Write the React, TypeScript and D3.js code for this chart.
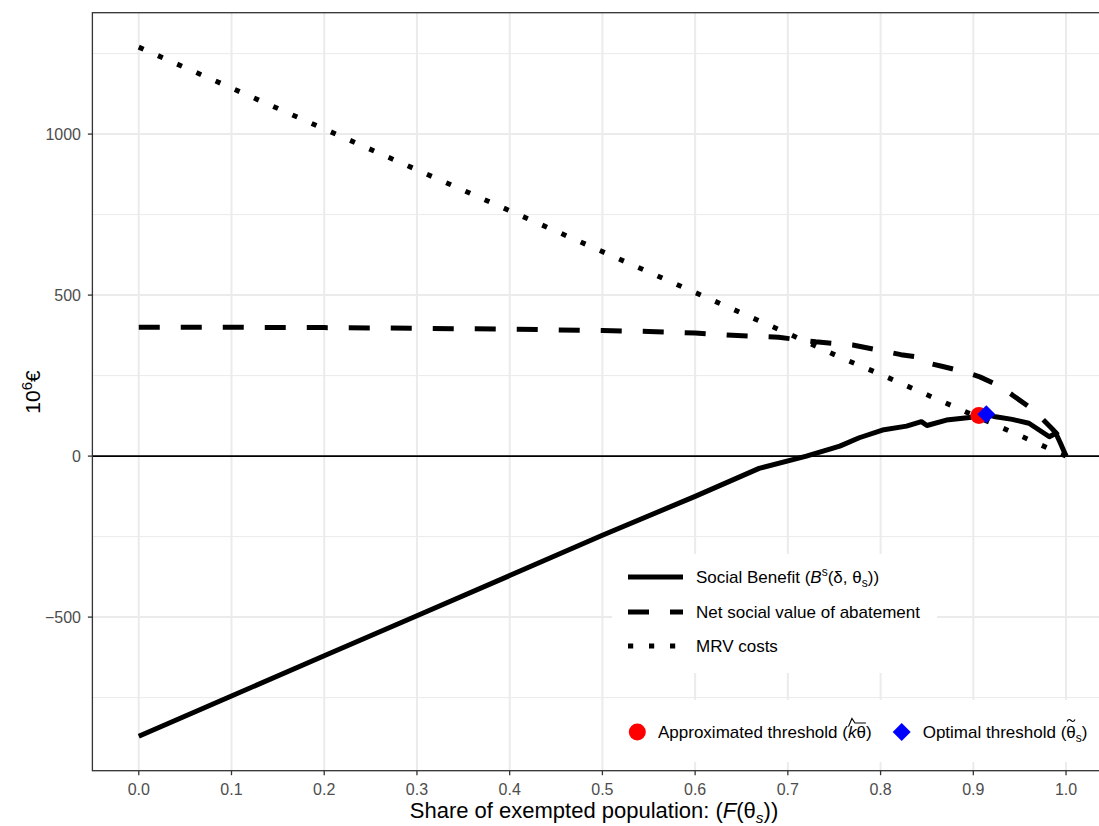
import React, { useEffect, useRef } from 'react';
import * as d3 from 'd3';

// ---- data ----
const sbX = [0, 0.1, 0.2, 0.3, 0.4, 0.5, 0.6, 0.669, 0.72, 0.756, 0.777, 0.802, 0.828, 0.844, 0.85, 0.871, 0.896, 0.906, 0.914, 0.924, 0.942, 0.96, 0.971, 0.982, 0.989, 0.994, 1.0];
const sbY = [-870, -745, -620, -496, -371, -246, -125, -38, 0, 31, 57, 81, 93, 107, 95, 112, 120, 127, 130, 122, 114, 102, 81, 60, 71, 40, 0];

const nsvX = [0, 0.1, 0.2, 0.3, 0.4, 0.5, 0.55, 0.6, 0.64, 0.69, 0.73, 0.77, 0.81, 0.822, 0.845, 0.85, 0.866, 0.89, 0.907, 0.926, 0.942, 0.96, 0.975, 0.985, 0.993, 1.0];
const nsvY = [400, 400, 399, 397, 394, 390, 387, 382, 375, 369, 355, 345, 322, 315, 306, 290, 279, 262, 246, 221, 190, 153, 114, 85, 60, 0];

const mrvX = [0, 0.2, 0.4, 0.6, 0.703, 0.761, 0.8, 0.9, 0.95, 0.985, 1.0];
const mrvY = [1270, 1016, 762, 508, 377, 301, 254, 127, 64, 19, 0];

const approxPt = [0.906, 126];
const optimalPt = [0.914, 130];

const xTicks = [0, 0.1, 0.2, 0.3, 0.4, 0.5, 0.6, 0.7, 0.8, 0.9, 1.0];
const yTicks = [-500, 0, 500, 1000];
const yMinor = [-750, -250, 250, 750, 1250];

const FONT = '"Liberation Sans", Arial, Helvetica, sans-serif';

export default function App() {
  const ref = useRef<SVGSVGElement>(null);

  useEffect(() => {
    document.body.style.margin = '0';
    const svg = d3.select(ref.current);
    svg.selectAll('*').remove();

    const left = 92.4, right = 1112.4, top = 12.7, bottom = 770.7;
    const allY = [...sbY, ...nsvY, ...mrvY];
    const yMin = d3.min(allY) as number, yMax = d3.max(allY) as number;
    const yPad = (yMax - yMin) * 0.05;
    const x = d3.scaleLinear().domain([-0.05, 1.05]).range([left, right]);
    const y = d3.scaleLinear().domain([yMin - yPad, yMax + yPad]).range([bottom, top]);

    svg.append('rect').attr('width', 1099).attr('height', 826).attr('fill', '#fff');

    const g = svg.append('g');
    // minor grid
    g.selectAll('.ymin').data(yMinor).join('line')
      .attr('x1', left).attr('x2', right).attr('y1', d => y(d)).attr('y2', d => y(d))
      .attr('stroke', '#EBEBEB').attr('stroke-width', 1);
    // major grid
    g.selectAll('.ymaj').data(yTicks).join('line')
      .attr('x1', left).attr('x2', right).attr('y1', d => y(d)).attr('y2', d => y(d))
      .attr('stroke', '#EBEBEB').attr('stroke-width', 2);
    g.selectAll('.xmaj').data(xTicks).join('line')
      .attr('y1', top).attr('y2', bottom).attr('x1', d => x(d)).attr('x2', d => x(d))
      .attr('stroke', '#EBEBEB').attr('stroke-width', 2);

    // zero line
    g.append('line').attr('x1', left).attr('x2', right).attr('y1', y(0)).attr('y2', y(0))
      .attr('stroke', '#000').attr('stroke-width', 1.8);

    const line = d3.line<[number, number]>().x(d => x(d[0])).y(d => y(d[1]));
    const series: [number[], number[], string | null][] = [
      [sbX, sbY, null],
      [nsvX, nsvY, '21 21'],
      [mrvX, mrvY, '5.2 15.8'],
    ];
    series.forEach(([xs, ys, dash]) => {
      const pts = xs.map((v, i) => [v, ys[i]] as [number, number]);
      const p = g.append('path').attr('d', line(pts) as string)
        .attr('fill', 'none').attr('stroke', '#000').attr('stroke-width', 5)
        .attr('stroke-linejoin', 'round').attr('stroke-linecap', 'butt');
      if (dash) p.attr('stroke-dasharray', dash);
    });

    // threshold points
    g.append('circle').attr('cx', x(approxPt[0])).attr('cy', y(approxPt[1])).attr('r', 8.5).attr('fill', '#FF0000');
    const diamond = (cx: number, cy: number, r: number) => `M${cx},${cy - r}L${cx + r},${cy}L${cx},${cy + r}L${cx - r},${cy}Z`;
    g.append('path').attr('d', diamond(x(optimalPt[0]), y(optimalPt[1]), 9)).attr('fill', '#0000FF');

    // legend boxes
    g.append('rect').attr('x', 612).attr('y', 554).attr('width', 325).attr('height', 119).attr('fill', '#fff');
    g.append('rect').attr('x', 612).attr('y', 700).attr('width', 500).attr('height', 62).attr('fill', '#fff');

    // legend 1
    const rows: [number, string | null][] = [[577, null], [612, '21 21'], [646, '5.2 15.8']];
    rows.forEach(([ry, dash]) => {
      const l = g.append('line').attr('x1', 628).attr('x2', 683).attr('y1', ry).attr('y2', ry)
        .attr('stroke', '#000').attr('stroke-width', 5.2).attr('stroke-linecap', 'butt');
      if (dash) l.attr('stroke-dasharray', dash);
    });
    const lt = (ry: number) => g.append('text').attr('x', 696).attr('y', ry + 6).attr('font-family', FONT)
      .attr('font-size', 17).attr('fill', '#000');
    const t1 = lt(577);
    t1.append('tspan').text('Social Benefit (');
    t1.append('tspan').attr('font-style', 'italic').text('B');
    t1.append('tspan').attr('font-size', 12).attr('dy', -7).text('s');
    t1.append('tspan').attr('dy', 7).text('(δ, θ');
    t1.append('tspan').attr('font-size', 12).attr('dy', 4).text('s');
    t1.append('tspan').attr('dy', -4).text('))');
    lt(612).text('Net social value of abatement');
    lt(646).text('MRV costs');

    // legend 2
    const ly = 732;
    g.append('circle').attr('cx', 637.3).attr('cy', ly).attr('r', 8.5).attr('fill', '#FF0000');
    const ta = g.append('text').attr('x', 658).attr('y', ly + 6).attr('font-family', FONT).attr('font-size', 17);
    ta.append('tspan').text('Approximated threshold (');
    ta.append('tspan').attr('font-style', 'italic').text('k');
    ta.append('tspan').text('θ');
    ta.append('tspan').text(')');
    const taNode = ta.node() as SVGTextElement;
    const kIdx = 'Approximated threshold ('.length;
    try {
      const kb = taNode.getExtentOfChar(kIdx);
      const thb = taNode.getExtentOfChar(kIdx + 1);
      const kl = kb.x, thr = thb.x + thb.width;
      g.append('path')
        .attr('d', `M${kl + 0.5},${ly - 5.5}L${kl + 4},${ly - 13.5}L${kl + 7},${ly - 9}L${thr},${ly - 9}`)
        .attr('fill', 'none').attr('stroke', '#000').attr('stroke-width', 1.1);
    } catch (e) { /* ignore */ }

    g.append('path').attr('d', diamond(901.7, ly, 9)).attr('fill', '#0000FF');
    const tb = g.append('text').attr('x', 922.7).attr('y', ly + 6).attr('font-family', FONT).attr('font-size', 17);
    tb.append('tspan').text('Optimal threshold (');
    tb.append('tspan').text('θ');
    tb.append('tspan').attr('font-size', 12).attr('dy', 4).text('s');
    tb.append('tspan').attr('dy', -4).text(')');
    try {
      const tbNode = tb.node() as SVGTextElement;
      const ti = 'Optimal threshold ('.length;
      const b = tbNode.getExtentOfChar(ti);
      const cx = b.x + b.width / 2, cy = ly - 11.5;
      g.append('path')
        .attr('d', `M${cx - 4},${cy + 1}C${cx - 2.5},${cy - 2} ${cx - 1},${cy - 1} ${cx},${cy}S${cx + 2.5},${cy + 2} ${cx + 4},${cy - 1}`)
        .attr('fill', 'none').attr('stroke', '#000').attr('stroke-width', 1.1);
    } catch (e) { /* ignore */ }

    // panel border
    g.append('rect').attr('x', left).attr('y', top).attr('width', right - left).attr('height', bottom - top)
      .attr('fill', 'none').attr('stroke', '#333333').attr('stroke-width', 1.3);

    // axes ticks
    g.selectAll('.xt').data(xTicks).join('line')
      .attr('x1', d => x(d)).attr('x2', d => x(d)).attr('y1', bottom).attr('y2', bottom + 4.5)
      .attr('stroke', '#333333').attr('stroke-width', 1.3);
    g.selectAll('.xl').data(xTicks).join('text')
      .attr('x', d => x(d)).attr('y', 795).attr('text-anchor', 'middle')
      .attr('font-family', FONT).attr('font-size', 16).attr('fill', '#4D4D4D')
      .text(d => d3.format('.1f')(d));
    g.selectAll('.yt').data(yTicks).join('line')
      .attr('x1', left - 4.5).attr('x2', left).attr('y1', d => y(d)).attr('y2', d => y(d))
      .attr('stroke', '#333333').attr('stroke-width', 1.3);
    g.selectAll('.yl').data(yTicks).join('text')
      .attr('x', 81).attr('y', d => y(d) + 5.8).attr('text-anchor', 'end')
      .attr('font-family', FONT).attr('font-size', 16).attr('fill', '#4D4D4D')
      .text(d => (d < 0 ? '\u2212' + Math.abs(d) : String(d)));

    // axis titles
    const xt = g.append('text').attr('x', 594).attr('y', 818).attr('text-anchor', 'middle')
      .attr('font-family', FONT).attr('font-size', 22).attr('fill', '#000');
    xt.append('tspan').text('Share of exempted population: (');
    xt.append('tspan').attr('font-style', 'italic').text('F');
    xt.append('tspan').text('(θ');
    xt.append('tspan').attr('font-style', 'italic').attr('font-size', 15.5).attr('dy', 5).text('s');
    xt.append('tspan').attr('dy', -5).text('))');

    const yt = g.append('text').attr('transform', 'translate(40,392) rotate(-90)').attr('text-anchor', 'middle')
      .attr('font-family', FONT).attr('font-size', 21).attr('fill', '#000');
    yt.append('tspan').text('10');
    yt.append('tspan').attr('font-size', 15).attr('dy', -8).text('6');
    yt.append('tspan').attr('dy', 8).text('€');
  }, []);

  return <svg ref={ref} width={1099} height={826} style={{ display: 'block' }} />;
}
